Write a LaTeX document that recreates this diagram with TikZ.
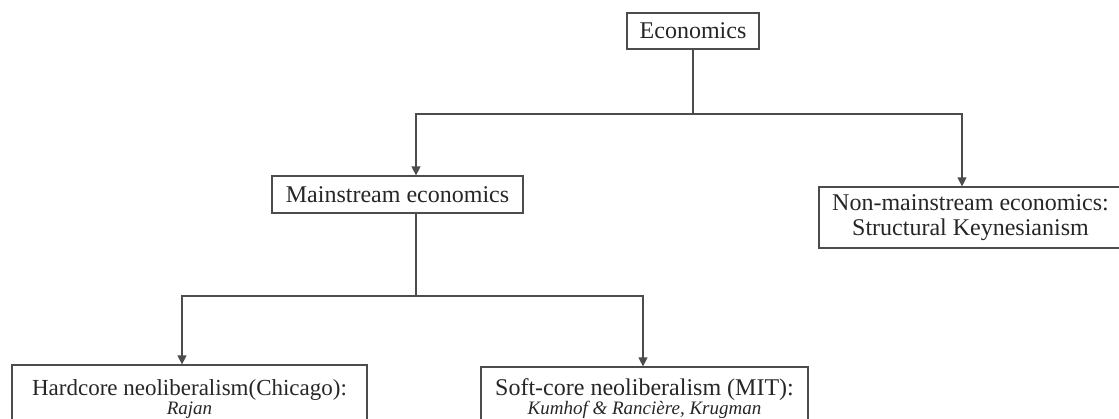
\documentclass[tikz,border=0pt]{standalone}
\usepackage{fontspec}
\setmainfont{Liberation Serif}
\usetikzlibrary{arrows.meta}

\begin{document}
\begin{tikzpicture}[x=0.5pt,y=-0.5pt,
  box/.style={draw=black!70,line width=0.6pt,inner sep=0pt,align=center,
    text=black!85,font=\fontsize{12}{12.5}\selectfont},
  link/.style={draw=black!70,line width=0.6pt},
  arrow/.style={link,-{Triangle[length=4.5pt,width=4.5pt]}}]
  \clip (0,0) rectangle (1119,418);
  % boxes
  \node[box,minimum width=66pt,minimum height=18pt] (econ) at (693,31) {Economics};
  \node[box,minimum width=125.5pt,minimum height=18.5pt] (main) at (397.5,194.5) {Mainstream economics};
  \node[box,minimum width=151.5pt,minimum height=30.5pt] (nonmain) at (970.5,217.5)
    {Non-mainstream economics:\\Structural Keynesianism};
  \node[box,minimum width=177.5pt,minimum height=34pt,font=\fontsize{11.5}{9.5}\selectfont] (hard) at (189.5,399)
    {Hardcore neoliberalism(Chicago):\\{\fontsize{9.5}{9.5}\selectfont\itshape Rajan}};
  \node[box,minimum width=163.5pt,minimum height=32pt,font=\fontsize{12}{9.5}\selectfont] (soft) at (644.5,399)
    {Soft-core neoliberalism (MIT):\\{\fontsize{9.5}{9.5}\selectfont\itshape Kumhof \& Ranci\`ere, Krugman}};
  % connectors
  \coordinate (split1) at (693,114);
  \coordinate (split2) at (416,296);
  \draw[link] (econ.south) -- (split1);
  \draw[arrow] (split1) -| ([xshift=9.25pt]main.north);
  \draw[arrow] (split1) -| ([xshift=-4.25pt]nonmain.north);
  \draw[link] ([xshift=9.25pt]main.south) -- (split2);
  \draw[arrow] (split2) -| ([xshift=-3.75pt]hard.north);
  \draw[arrow] (split2) -| ([xshift=-0.75pt]soft.north);
\end{tikzpicture}
\end{document}
